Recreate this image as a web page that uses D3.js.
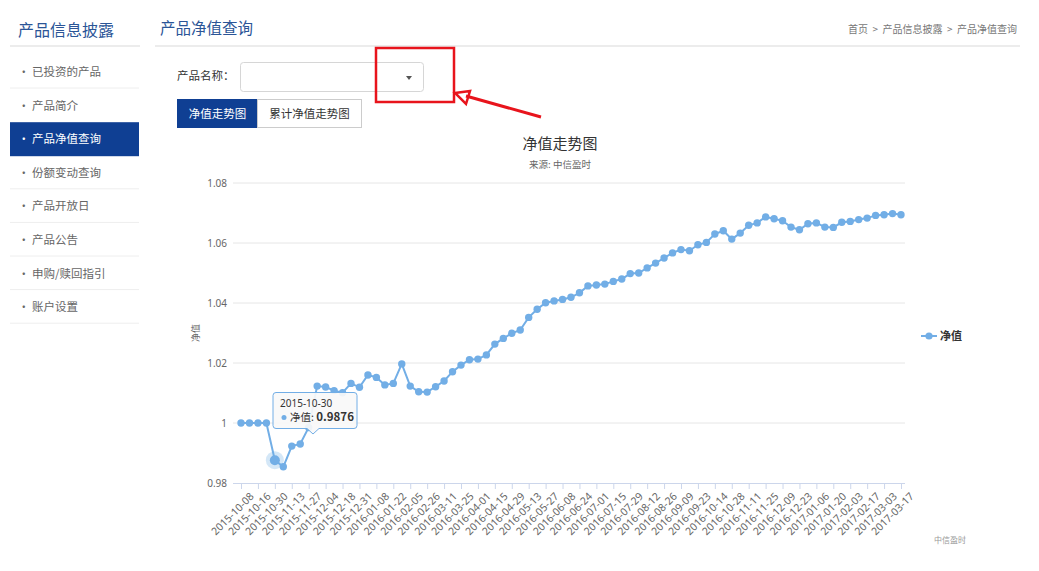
<!DOCTYPE html>
<html><head><meta charset="utf-8">
<script src="https://cdn.jsdelivr.net/npm/d3@7"></script>
<style>
body{margin:0;background:#fff;}
svg{display:block;font-family:"Noto Sans CJK SC","Noto Sans",sans-serif;}
</style>
</head><body><svg id="c" width="1039" height="571"></svg>
<script>
const dates = [
"2015-10-08","2015-10-09","2015-10-16","2015-10-23","2015-10-30","2015-11-06","2015-11-13","2015-11-20","2015-11-27","2015-11-30",
"2015-12-04","2015-12-11","2015-12-18","2015-12-25","2015-12-31","2016-01-04","2016-01-08","2016-01-15","2016-01-22","2016-01-29",
"2016-02-05","2016-02-19","2016-02-26","2016-03-04","2016-03-11","2016-03-18","2016-03-25","2016-03-31","2016-04-01","2016-04-08",
"2016-04-15","2016-04-22","2016-04-29","2016-05-06","2016-05-13","2016-05-20","2016-05-27","2016-06-03","2016-06-08","2016-06-17",
"2016-06-24","2016-06-30","2016-07-01","2016-07-08","2016-07-15","2016-07-22","2016-07-29","2016-08-05","2016-08-12","2016-08-19",
"2016-08-26","2016-09-02","2016-09-09","2016-09-14","2016-09-23","2016-09-30","2016-10-14","2016-10-21","2016-10-28","2016-11-04",
"2016-11-11","2016-11-18","2016-11-25","2016-12-02","2016-12-09","2016-12-16","2016-12-23","2016-12-30","2017-01-06","2017-01-13",
"2017-01-20","2017-01-26","2017-02-03","2017-02-10","2017-02-17","2017-02-24","2017-03-03","2017-03-10","2017-03-17"
];
const navValues = [
1.0000,1.0000,1.0000,1.0000,0.9876,0.9854,0.9923,0.9930,0.9985,1.0123,
1.0120,1.0108,1.0101,1.0132,1.0119,1.0160,1.0152,1.0127,1.0132,1.0197,
1.0123,1.0104,1.0103,1.0121,1.0140,1.0171,1.0193,1.0211,1.0213,1.0227,
1.0263,1.0282,1.0299,1.0310,1.0352,1.0379,1.0401,1.0407,1.0412,1.0419,
1.0434,1.0457,1.0460,1.0463,1.0472,1.0480,1.0498,1.0500,1.0517,1.0533,
1.0550,1.0567,1.0578,1.0574,1.0594,1.0602,1.0630,1.0641,1.0613,1.0633,
1.0659,1.0667,1.0687,1.0681,1.0674,1.0653,1.0644,1.0664,1.0667,1.0653,
1.0652,1.0669,1.0672,1.0678,1.0683,1.0692,1.0694,1.0698,1.0694
];
const yTicks = [0.98, 1, 1.02, 1.04, 1.06, 1.08];
const menuItems = ["已投资的产品","产品简介","产品净值查询","份额变动查询","产品开放日","产品公告","申购/赎回指引","账户设置"];
const activeMenu = "产品净值查询";
const tabs = ["净值走势图","累计净值走势图"];
const seriesName = "净值";
const hoverIndex = 4;

const svg = d3.select("#c");
const blue = "#0f3f93";
const lineColor = "#72aee6";

// ---- Sidebar ----
svg.append("text").attr("x",18).attr("y",36).attr("font-size",16).attr("fill","#2b5597").text("产品信息披露");
svg.append("line").attr("x1",10).attr("x2",140).attr("y1",46).attr("y2",46).attr("stroke","#ececec").attr("stroke-width",2);
const itemH = 33.6, itemTop = 55;
menuItems.forEach((m,i)=>{
  const y0 = itemTop + i*itemH;
  const active = m===activeMenu;
  if(active){
    svg.append("rect").attr("x",10).attr("y",y0).attr("width",129).attr("height",34).attr("fill",blue);
  }
  svg.append("text").attr("x",18).attr("y",y0+21).attr("font-size",11.5)
    .attr("fill",active?"#fff":"#666").text("• "+m);
  if(!active && menuItems[i+1]!==activeMenu)
    svg.append("line").attr("x1",10).attr("x2",139).attr("y1",y0+33).attr("y2",y0+33).attr("stroke","#eeeeee");
});

// ---- Header ----
svg.append("text").attr("x",160).attr("y",34).attr("font-size",15.5).attr("fill","#2b5597").text("产品净值查询");
svg.append("line").attr("x1",155).attr("x2",1020).attr("y1",46).attr("y2",46).attr("stroke","#ececec").attr("stroke-width",2);
svg.append("text").attr("x",1017).attr("y",33).attr("text-anchor","end").attr("font-size",10).attr("fill","#777")
  .attr("xml:space","preserve").text("首页  >  产品信息披露  >  产品净值查询");

// ---- Form ----
svg.append("text").attr("x",177).attr("y",80).attr("font-size",11.5).attr("fill","#333").text("产品名称：");
svg.append("rect").attr("x",240.5).attr("y",62.5).attr("width",183).attr("height",29).attr("rx",3)
  .attr("fill","#fff").attr("stroke","#d6d6d6");
svg.append("path").attr("d","M406,76 L412,76 L409,80 Z").attr("fill","#555");

// tabs
svg.append("rect").attr("x",177).attr("y",99).attr("width",81).attr("height",29).attr("fill",blue);
svg.append("text").attr("x",217.5).attr("y",118).attr("text-anchor","middle").attr("font-size",11.5).attr("fill","#fff").text(tabs[0]);
svg.append("rect").attr("x",257.5).attr("y",99.5).attr("width",104).attr("height",28).attr("fill","#fff").attr("stroke","#ccc");
svg.append("text").attr("x",309.5).attr("y",118).attr("text-anchor","middle").attr("font-size",11.5).attr("fill","#333").text(tabs[1]);

// ---- Chart ----
const x = d3.scalePoint().domain(dates).range([241,901]);
const y = d3.scaleLinear().domain([0.98,1.08]).range([483,183]);

svg.append("text").attr("x",560).attr("y",149).attr("text-anchor","middle").attr("font-size",15).attr("fill","#333").text("净值走势图");
svg.append("text").attr("x",560).attr("y",168).attr("text-anchor","middle").attr("font-size",9.5).attr("fill","#666").text("来源: 中信盈时");

// grid
const grid = svg.append("g");
yTicks.forEach(t=>{
  if(t!==0.98) grid.append("line").attr("x1",233).attr("x2",905).attr("y1",y(t)).attr("y2",y(t)).attr("stroke","#e6e6e6");
});
const yAxis = d3.axisLeft(y).tickValues(yTicks).tickSize(0).tickPadding(0).tickFormat(t=>String(+t.toFixed(2)));
const gy = svg.append("g").attr("transform","translate(227,0)").call(yAxis);
gy.select(".domain").remove();
gy.selectAll("text").attr("font-size",10).attr("fill","#666").attr("font-family","'Noto Sans',sans-serif");

svg.append("text").attr("transform","translate(199,333) rotate(-90)").attr("text-anchor","middle")
  .attr("font-size",9).attr("fill","#666").text(seriesName);

// x axis
const xTickVals = dates.filter((d,i)=>i%2===0);
const xAxis = d3.axisBottom(x).tickValues(xTickVals).tickSize(6).tickPadding(2);
const gx = svg.append("g").attr("transform","translate(0,483)").call(xAxis);
gx.select(".domain").attr("d","M233,0.5H905").attr("stroke","#ccd6eb");
gx.selectAll(".tick line").attr("stroke","#ccd6eb");
gx.selectAll("text").attr("font-size",10.5).attr("fill","#666").attr("font-family","'Noto Sans',sans-serif")
  .attr("text-anchor","end").attr("dy","0.6em")
  .attr("transform","translate(3,4) rotate(-45)");

// line
const pts = dates.map((d,i)=>({d,v:navValues[i]}));
svg.append("path").datum(pts).attr("fill","none").attr("stroke",lineColor).attr("stroke-width",2)
  .attr("d",d3.line().x(p=>x(p.d)).y(p=>y(p.v)));
// hover halo
svg.append("circle").attr("cx",x(dates[hoverIndex])).attr("cy",y(navValues[hoverIndex])).attr("r",9)
  .attr("fill",lineColor).attr("opacity",0.3);
svg.append("g").selectAll("circle").data(pts).join("circle")
  .attr("cx",p=>x(p.d)).attr("cy",p=>y(p.v)).attr("r",(p,i)=>i===hoverIndex?5:3.7).attr("fill",lineColor);

// legend
svg.append("line").attr("x1",921).attr("x2",937).attr("y1",336).attr("y2",336).attr("stroke",lineColor).attr("stroke-width",2);
svg.append("circle").attr("cx",929).attr("cy",336).attr("r",3.6).attr("fill",lineColor);
svg.append("text").attr("x",940).attr("y",340).attr("font-size",11).attr("font-weight","bold").attr("fill","#333").text(seriesName);

// credits
svg.append("text").attr("x",966).attr("y",543).attr("text-anchor","end").attr("font-size",8).attr("fill","#999").text("中信盈时");

// tooltip
const tt = svg.append("g");
tt.append("path").attr("d","M276,392.5 H354 Q357,392.5 357,395.5 V425.5 Q357,428.5 354,428.5 H319 L313,434 L307,428.5 H276 Q273,428.5 273,425.5 V395.5 Q273,392.5 276,392.5 Z")
  .attr("fill","rgba(249,249,249,0.92)").attr("stroke",lineColor).attr("stroke-width",1);
tt.append("text").attr("x",280).attr("y",407).attr("font-size",10).attr("fill","#333").attr("font-family","'Noto Sans',sans-serif").text(dates[hoverIndex]);
tt.append("circle").attr("cx",284).attr("cy",417.5).attr("r",2.5).attr("fill",lineColor);
const t2 = tt.append("text").attr("x",290).attr("y",421).attr("font-size",10.5).attr("fill","#333");
t2.append("tspan").text(seriesName+": ");
t2.append("tspan").attr("font-weight","bold").attr("font-size",11.5).text(navValues[hoverIndex].toFixed(4));

// red annotation
svg.append("rect").attr("x",376).attr("y",48).attr("width",78).attr("height",54).attr("fill","none").attr("stroke","#e8141c").attr("stroke-width",2.5);
svg.append("line").attr("x1",541).attr("y1",117).attr("x2",466).attr("y2",96).attr("stroke","#e8141c").attr("stroke-width",3);
svg.append("path").attr("d","M455,93 L470,91 L466,104 Z").attr("fill","none").attr("stroke","#e8141c").attr("stroke-width",2.5).attr("stroke-linejoin","miter");
</script>
</body></html>
